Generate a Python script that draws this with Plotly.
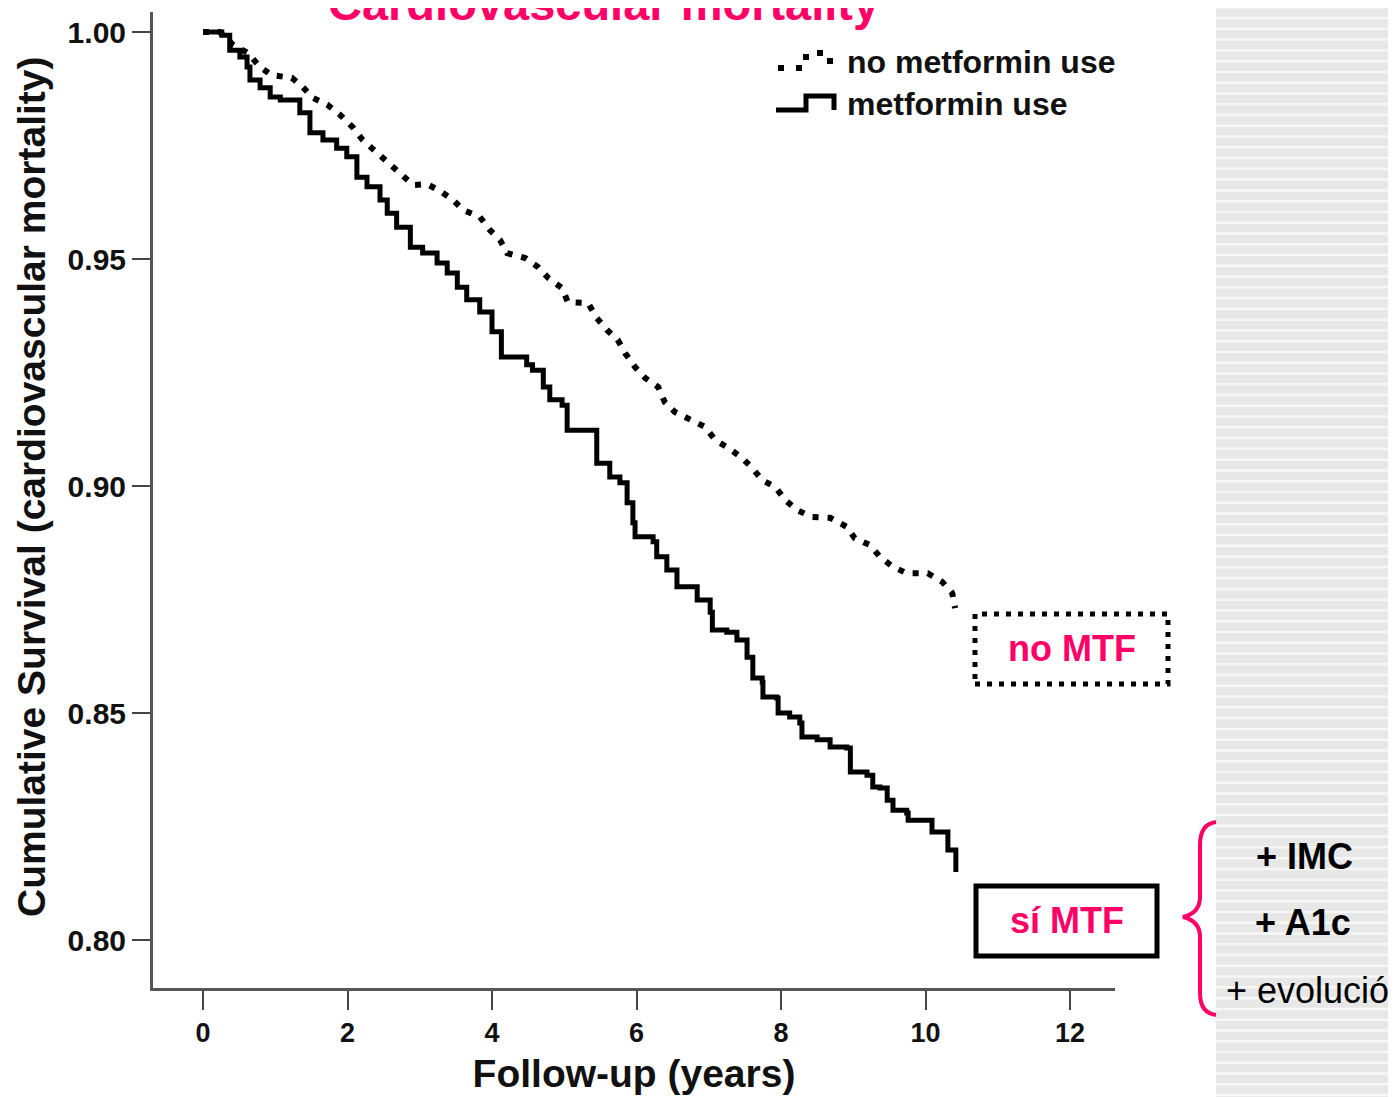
import plotly.graph_objects as go

# ---------------- data ----------------
metformin_t = [0, 0.26, 0.37, 0.51, 0.61, 0.65, 0.79, 0.93, 1.07, 1.34, 1.48, 1.66,
               1.85, 1.99, 2.13, 2.27, 2.45, 2.55, 2.68, 2.87, 3.04, 3.24, 3.38, 3.52,
               3.65, 3.83, 4.00, 4.13, 4.48, 4.56, 4.71, 4.80, 4.97, 5.04, 5.45, 5.63,
               5.77, 5.87, 5.95, 5.98, 6.23, 6.28, 6.42, 6.56, 6.84, 7.02, 7.05, 7.25,
               7.39, 7.53, 7.61, 7.74, 7.75, 7.94, 7.96, 8.12, 8.26, 8.29, 8.50, 8.68,
               8.91, 8.96, 9.19, 9.27, 9.37, 9.47, 9.55, 9.74, 9.76, 10.09, 10.31, 10.42]
metformin_s = [1.000, 0.9993, 0.9960, 0.9945, 0.9923, 0.9894, 0.9877, 0.9857, 0.9850,
               0.9822, 0.9778, 0.9762, 0.9744, 0.9725, 0.9680, 0.9659, 0.9630, 0.9601,
               0.9570, 0.9526, 0.9513, 0.9491, 0.9469, 0.9438, 0.9410, 0.9383, 0.9340,
               0.9284, 0.9267, 0.9255, 0.9218, 0.9190, 0.9178, 0.9123, 0.9050, 0.9020,
               0.9007, 0.8963, 0.8919, 0.8888, 0.8877, 0.8844, 0.8815, 0.8778, 0.8749,
               0.8722, 0.8683, 0.8678, 0.8661, 0.8623, 0.8577, 0.8568, 0.8535, 0.8533,
               0.8500, 0.8491, 0.8478, 0.8447, 0.8441, 0.8425, 0.8423, 0.8370, 0.8363,
               0.8337, 0.8335, 0.8308, 0.8286, 0.8280, 0.8264, 0.8238, 0.8198, 0.8150]

no_metformin_t = [0, 0.23, 0.42, 0.62, 0.79, 0.95, 1.23, 1.38, 1.52, 1.72, 1.90, 2.08,
                  2.21, 2.41, 2.55, 2.73, 2.91, 3.10, 3.28, 3.46, 3.60, 3.83, 3.97, 4.11,
                  4.21, 4.46, 4.64, 4.78, 4.97, 5.05, 5.33, 5.45, 5.59, 5.74, 5.84, 5.98,
                  6.12, 6.30, 6.39, 6.53, 6.74, 6.95, 7.09, 7.27, 7.46, 7.60, 7.74, 7.92,
                  8.06, 8.22, 8.43, 8.68, 8.91, 9.02, 9.23, 9.37, 9.55, 9.74, 10.03, 10.23,
                  10.37, 10.41]
no_metformin_s = [1.000, 1.000, 0.9971, 0.9954, 0.9923, 0.9905, 0.9899, 0.9879, 0.9855,
                  0.9840, 0.9817, 0.9789, 0.9762, 0.9733, 0.9711, 0.9685, 0.9663, 0.9665,
                  0.9650, 0.9630, 0.9608, 0.9593, 0.9564, 0.9542, 0.9513, 0.9502, 0.9482,
                  0.9458, 0.9436, 0.9405, 0.9403, 0.9370, 0.9344, 0.9322, 0.9293, 0.9262,
                  0.9238, 0.9218, 0.9185, 0.9163, 0.9145, 0.9130, 0.9101, 0.9084, 0.9062,
                  0.9040, 0.9013, 0.8998, 0.8969, 0.8947, 0.8932, 0.8930, 0.8910, 0.8885,
                  0.8870, 0.8844, 0.8822, 0.8808, 0.8808, 0.8789, 0.8764, 0.8731]

x_ticks = [0, 2, 4, 6, 8, 10, 12]
y_ticks = [0.80, 0.85, 0.90, 0.95, 1.00]

title_text = "Cardiovascular mortality"
x_title = "Follow-up (years)"
y_title = "Cumulative Survival (cardiovascular mortality)"
legend_labels = ["no metformin use", "metformin use"]
box_labels = ["no MTF", "sí MTF"]
side_labels = ["+ IMC", "+ A1c", "+ evolució"]

# ---------------- layout helpers (page pixel coords) ----------------
PAGE_W, PAGE_H = 1396, 1097
OFF = 8                      # default body margin of the html page
W_FIG, H_FIG = PAGE_W - OFF, PAGE_H - OFF
L, R, T, B = 153, 1115, 12, 988
PW, PH = R - L, B - T
PINK = "#FF0066"
FONT = "Liberation Sans, Arial, Helvetica, sans-serif"


def px(x):
    return (x - L) / PW


def py(y):
    return (B - y) / PH


def path(points):
    parts = []
    for cmd, *xy in points:
        coords = []
        for i in range(0, len(xy), 2):
            coords.append(f"{px(xy[i]):.5f},{py(xy[i + 1]):.5f}")
        parts.append(cmd + " ".join(coords))
    return " ".join(parts)


fig = go.Figure()

fig.add_trace(go.Scatter(
    x=no_metformin_t, y=no_metformin_s, mode="lines", name=legend_labels[0],
    line=dict(color="black", width=6, dash="6px,9px", shape="linear"),
    showlegend=False,
))
fig.add_trace(go.Scatter(
    x=metformin_t, y=metformin_s, mode="lines", name=legend_labels[1],
    line=dict(color="black", width=5, shape="hv"),
    showlegend=False,
))

shapes = []
# striped grey side panel
shapes.append(dict(type="rect", xref="paper", yref="paper",
                   x0=px(1216), x1=px(1400), y0=py(1105), y1=py(-5),
                   fillcolor="#e7e7e7", line=dict(width=0), layer="below"))
stripe_cmds = []
k = 0
while True:
    yy = 7.3 + 10.77 * k
    if yy > 1100:
        break
    stripe_cmds.append(("M", 1216, yy))
    stripe_cmds.append(("L", 1400, yy))
    k += 1
shapes.append(dict(type="path", xref="paper", yref="paper", path=path(stripe_cmds),
                   line=dict(color="#f7f7f7", width=2.5), layer="below"))

# boxes
shapes.append(dict(type="rect", xref="paper", yref="paper",
                   x0=px(975), x1=px(1168), y0=py(684), y1=py(614),
                   line=dict(color="black", width=5, dash="5px,7px")))
shapes.append(dict(type="rect", xref="paper", yref="paper",
                   x0=px(976), x1=px(1157), y0=py(956), y1=py(886),
                   line=dict(color="black", width=5)))

# curly brace
brace = [("M", 1216, 822), ("Q", 1200, 824, 1200, 845), ("L", 1200, 897),
         ("Q", 1200, 913, 1183, 917), ("Q", 1200, 921, 1200, 937),
         ("L", 1200, 993), ("Q", 1200, 1013, 1216, 1015)]
shapes.append(dict(type="path", xref="paper", yref="paper", path=path(brace),
                   line=dict(color=PINK, width=4)))

# custom legend samples
shapes.append(dict(type="path", xref="paper", yref="paper",
                   path=path([("M", 778, 68), ("L", 806, 68), ("L", 806, 53),
                              ("L", 830, 53), ("L", 830, 68), ("L", 838, 68)]),
                   line=dict(color="black", width=6, dash="6px,12px")))
shapes.append(dict(type="path", xref="paper", yref="paper",
                   path=path([("M", 776, 110), ("L", 806, 110), ("L", 806, 96),
                              ("L", 834, 96), ("L", 834, 110)]),
                   line=dict(color="black", width=5)))

annotations = []


def add_text(text, x, y, size, color="black", bold=True, xanchor="center", angle=0):
    t = f"<b>{text}</b>" if bold else text
    annotations.append(dict(text=t, xref="paper", yref="paper", x=px(x), y=py(y),
                            xanchor=xanchor, yanchor="middle", showarrow=False,
                            textangle=angle,
                            font=dict(size=size, color=color, family=FONT)))


add_text(title_text, 603, 3, 47, PINK)
add_text(y_title, 31, 487, 39, "#111111", angle=-90)
add_text(legend_labels[0], 845, 62, 32, "#111111", xanchor="left")
add_text(legend_labels[1], 845, 104, 32, "#111111", xanchor="left")
add_text(box_labels[0], 1072, 648, 36, PINK)
add_text(box_labels[1], 1067, 920, 36, PINK)
add_text(side_labels[0], 1304, 856, 36)
add_text(side_labels[1], 1303, 922, 36)
add_text(side_labels[2], 1224, 990, 36, bold=False, xanchor="left")

fig.update_layout(
    width=W_FIG, height=H_FIG,
    margin=dict(l=L - OFF, r=PAGE_W - R, t=T - OFF, b=PAGE_H - B, pad=0),
    paper_bgcolor="white", plot_bgcolor="white",
    showlegend=False,
    shapes=shapes, annotations=annotations,
    font=dict(family=FONT, color="#111111"),
)

x_lo = (L - 203) / 72.25
x_hi = (R - 203) / 72.25
y_lo = 0.80 - (B - 940) / 4540
y_hi = 1.00 + (32 - T) / 4540

fig.update_xaxes(
    range=[x_lo, x_hi], tickvals=x_ticks, ticktext=[f"<b>{v}</b>" for v in x_ticks],
    ticks="outside", ticklen=19, tickwidth=2, tickcolor="#444444",
    showline=True, linecolor="#555555", linewidth=3,
    showgrid=False, zeroline=False,
    tickfont=dict(size=27, color="#111111", family=FONT),
    title=dict(text=f"<b>{x_title}</b>", font=dict(size=39, color="#111111", family=FONT),
               standoff=13),
)
fig.update_yaxes(
    range=[y_lo, y_hi], tickvals=y_ticks, ticktext=[f"<b>{v:.2f}</b>" for v in y_ticks],
    ticks="outside", ticklen=18, tickwidth=2, tickcolor="#444444",
    showline=True, linecolor="#555555", linewidth=3,
    showgrid=False, zeroline=False,
    tickfont=dict(size=30, color="#111111", family=FONT),
    ticklabelstandoff=0,
)

fig.write_html("out.html")
